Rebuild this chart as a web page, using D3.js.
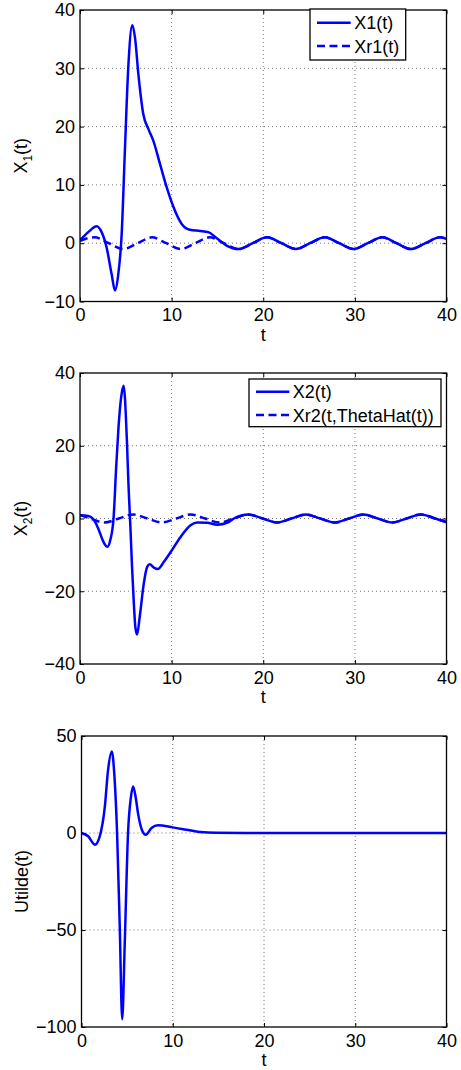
<!doctype html>
<meta charset="utf-8">
<title>X1, X2, Utilde</title>
<script src="https://cdn.jsdelivr.net/npm/d3@7"></script>
<style>
  body { margin: 0; background: #fff; }
  svg text { font-family: "Liberation Sans", Arial, sans-serif; font-size: 18px; fill: #000; }
</style>

<div id="chart"></div>

<script>
  // shared x axis
  const xTicks = [0, 10, 20, 30, 40];

  // panel 1: X1(t) and Xr1(t)
  const tX1 = [0, 0.9, 1.82, 2.36, 2.9, 3.45, 3.82, 4.18, 4.55, 4.9, 5.27, 5.71, 6.0, 6.37, 6.9, 7.46, 8.0, 8.73, 9.46, 10.2, 11.1, 12.0, 13.1, 14.0, 14.9, 16.0,
    17.3, 18.85, 20.4, 22.0, 23.55, 25.1, 26.7, 28.3, 29.85, 31.4, 33.0, 34.55, 36.1, 37.7, 39.3, 40];
  const vX1 = [0.5, 1.9, 2.9, 1.9, -0.7, -5.3, -8.1, -5.3, 1.6, 15.9, 30.2, 37.4, 35.3, 29, 22.2, 19.6, 17.6, 13.6, 9.6, 6.2, 3.3, 2.3, 2.1, 1.9, 0.9, -0.4,
    -1, 0, 1, 0, -1, 0, 1, 0, -1, 0, 1, 0, -1, 0, 1, 0.75];
  const tXr1 = [0, 0.8, 1.57, 3.14, 4.71, 6.28, 7.85, 9.42, 11.0, 12.57, 14.14, 15.71,
    17.3, 18.85, 20.4, 22.0, 23.55, 25.1, 26.7, 28.3, 29.85, 31.4, 33.0, 34.55, 36.1, 37.7, 39.3, 40];
  const vXr1 = [0.4, 0.85, 1, 0, -1, 0, 1, 0, -1, 0, 1, 0,
    -1, 0, 1, 0, -1, 0, 1, 0, -1, 0, 1, 0, -1, 0, 1, 0.75];
  const yTicks1 = [-10, 0, 10, 20, 30, 40];

  // panel 2: X2(t) and Xr2(t, ThetaHat(t))
  const tX2 = [0, 0.9, 1.65, 2.0, 2.4, 2.75, 3.0, 3.3, 3.66, 3.95, 4.2, 4.5, 4.76, 5.13, 5.3, 5.5, 5.68, 5.86, 6.04, 6.23, 6.52, 6.96, 7.33, 7.62, 8.06, 8.5,
    9.16, 9.9, 11.0, 12.1, 12.8, 13.9, 15.0, 16.1, 16.8,
    18.37, 19.94, 21.5, 23.08, 24.65, 26.22, 27.8, 29.36, 30.93, 32.5, 34.07, 35.64, 37.2, 38.78, 40];
  const vX2 = [0.9, 0.7, -0.9, -2.8, -5.5, -7.3, -7.8, -6, 0, 14.2, 25, 33.5, 36.5, 20.6, 8.7, -2.3, -13.3, -22.5, -29.8, -31.9, -27, -17.9, -13.3, -12.6, -13.5, -13.9,
    -11.9, -9.2, -5, -1.8, -1.1, -1.2, -1.7, -1.1, 0,
    1.1, 0, -1.1, 0, 1.1, 0, -1.1, 0, 1.1, 0, -1.1, 0, 1.1, 0, -1.0];
  const tXr2 = [0, 1.1, 2.66, 4.23, 5.8, 7.37, 8.94, 10.51, 12.08, 13.65, 15.22, 16.8,
    18.37, 19.94, 21.5, 23.08, 24.65, 26.22, 27.8, 29.36, 30.93, 32.5, 34.07, 35.64, 37.2, 38.78, 40];
  const vXr2 = [0.95, 0, -1.1, 0, 1.1, 0, -1.1, 0, 1.1, 0, -1.1, 0,
    1.1, 0, -1.1, 0, 1.1, 0, -1.1, 0, 1.1, 0, -1.1, 0, 1.1, 0, -1.0];
  const yTicks2 = [-40, -20, 0, 20, 40];

  // panel 3: Utilde(t)
  const tU = [0, 0.73, 1.46, 2.0, 2.56, 2.9, 3.32, 3.6, 3.9, 4.2, 4.46, 4.75, 5.1, 5.4, 5.66, 5.95, 6.2, 6.68, 7.05, 7.67, 8.4, 10, 11.5, 13, 14.8, 20, 30, 40];
  const vU = [0, -1.7, -6, -1.7, 13.7, 32, 42, 30, 0, -50, -96, -55, 0, 18, 24, 18, 10, 0.9, -0.9, 2.6, 4, 2.9, 1.7, 0.5, 0.1, 0, 0, 0];
  const yTicks3 = [-100, -50, 0, 50];

  const svg = d3.select('#chart')
    .append('svg')
    .attr('width', 461)
    .attr('height', 1070)

  const blue = '#0000ff';
  const dash = '8,4.5';

  function drawPanel(p) {
    const x = d3.scaleLinear().domain([0, 40]).range([p.left, p.right]);
    const y = d3.scaleLinear().domain(p.yDomain).range([p.bottom, p.top]);
    const g = svg.append('g');

    // dotted grid
    g.append('g').selectAll('line')
      .data(xTicks.slice(1, -1))
      .join('line')
      .attr('x1', d => x(d)).attr('x2', d => x(d))
      .attr('y1', p.top).attr('y2', p.bottom)
      .attr('stroke', '#777').attr('stroke-dasharray', '1,3');
    g.append('g').selectAll('line')
      .data(p.yTicks.slice(1, -1))
      .join('line')
      .attr('y1', d => y(d)).attr('y2', d => y(d))
      .attr('x1', p.left).attr('x2', p.right)
      .attr('stroke', '#777').attr('stroke-dasharray', '1,3');

    svg.append('clipPath').attr('id', 'clip' + p.id)
      .append('rect')
      .attr('x', p.left).attr('y', p.top)
      .attr('width', p.right - p.left).attr('height', p.bottom - p.top);

    const line = d3.line()
      .x(d => x(d[0]))
      .y(d => y(d[1]))
      .curve(d3.curveMonotoneX);

    p.series.forEach(s => {
      g.append('path')
        .datum(d3.zip(s.t, s.v))
        .attr('clip-path', `url(#clip${p.id})`)
        .attr('d', line)
        .attr('fill', 'none')
        .attr('stroke', blue)
        .attr('stroke-width', 2.5)
        .attr('stroke-dasharray', s.dashed ? dash : null);
    });

    // axes with inward ticks on all four sides
    const bottom = g.append('g')
      .attr('transform', `translate(0,${p.bottom})`)
      .call(d3.axisBottom(x).tickValues(xTicks).tickSizeInner(-4).tickSizeOuter(0).tickPadding(7));
    const top = g.append('g')
      .attr('transform', `translate(0,${p.top})`)
      .call(d3.axisTop(x).tickValues(xTicks).tickFormat('').tickSizeInner(-4).tickSizeOuter(0));
    const left = g.append('g')
      .attr('transform', `translate(${p.left},0)`)
      .call(d3.axisLeft(y).tickValues(p.yTicks).tickSizeInner(-4).tickSizeOuter(0).tickPadding(5));
    const right = g.append('g')
      .attr('transform', `translate(${p.right},0)`)
      .call(d3.axisRight(y).tickValues(p.yTicks).tickFormat('').tickSizeInner(-4).tickSizeOuter(0));
    [bottom, top, left, right].forEach(a => {
      a.select('.domain').remove();
      a.selectAll('.tick line').attr('stroke', '#000');
    });

    g.append('rect')
      .attr('x', p.left).attr('y', p.top)
      .attr('width', p.right - p.left).attr('height', p.bottom - p.top)
      .attr('fill', 'none').attr('stroke', '#000').attr('stroke-width', 1.3);

    // axis titles
    g.append('text')
      .attr('x', (p.left + p.right) / 2)
      .attr('y', p.bottom + 39)
      .attr('text-anchor', 'middle')
      .text('t');

    const yl = g.append('text')
      .attr('transform', `translate(${p.ylabelX},${(p.top + p.bottom) / 2}) rotate(-90)`)
      .attr('text-anchor', 'middle');
    yl.append('tspan').text(p.ylabel[0]);
    if (p.ylabel[1]) {
      yl.append('tspan').attr('dy', 5).style('font-size', '12px').text(p.ylabel[1]);
      yl.append('tspan').attr('dy', -5).text(p.ylabel[2]);
    }

    // legend
    if (p.legend) {
      const L = p.legend;
      g.append('rect')
        .attr('x', L.x0).attr('y', L.y0)
        .attr('width', L.x1 - L.x0).attr('height', L.y1 - L.y0)
        .attr('fill', '#fff').attr('stroke', '#000').attr('stroke-width', 1.3);
      L.items.forEach((it, i) => {
        const ry = L.rows[i];
        g.append('line')
          .attr('x1', L.s0).attr('x2', L.s1)
          .attr('y1', ry).attr('y2', ry)
          .attr('stroke', blue).attr('stroke-width', 2.5)
          .attr('stroke-dasharray', it.dashed ? dash : null);
        g.append('text')
          .attr('x', L.s1 + 3.5)
          .attr('y', ry + 6.5)
          .text(it.label);
      });
    }
  }

  drawPanel({
    id: 1, left: 80, right: 446.5, top: 10, bottom: 301.5,
    yDomain: [-10, 40], yTicks: yTicks1,
    ylabel: ['X', '1', '(t)'], ylabelX: 27,
    series: [
      { t: tX1, v: vX1, dashed: false },
      { t: tXr1, v: vXr1, dashed: true }
    ],
    legend: {
      x0: 310, x1: 405.7, y0: 9, y1: 60, s0: 317, s1: 350.7, rows: [22.7, 46],
      items: [{ label: 'X1(t)', dashed: false }, { label: 'Xr1(t)', dashed: true }]
    }
  });

  drawPanel({
    id: 2, left: 80, right: 446.5, top: 373, bottom: 664,
    yDomain: [-40, 40], yTicks: yTicks2,
    ylabel: ['X', '2', '(t)'], ylabelX: 27,
    series: [
      { t: tX2, v: vX2, dashed: false },
      { t: tXr2, v: vXr2, dashed: true }
    ],
    legend: {
      x0: 249, x1: 441, y0: 379, y1: 426.7, s0: 256, s1: 289.3, rows: [391.7, 415],
      items: [{ label: 'X2(t)', dashed: false }, { label: 'Xr2(t,ThetaHat(t))', dashed: true }]
    }
  });

  drawPanel({
    id: 3, left: 81.5, right: 446.5, top: 736, bottom: 1027,
    yDomain: [-100, 50], yTicks: yTicks3,
    ylabel: ['Utilde(t)'], ylabelX: 28,
    series: [
      { t: tU, v: vU, dashed: false }
    ]
  });
</script>
